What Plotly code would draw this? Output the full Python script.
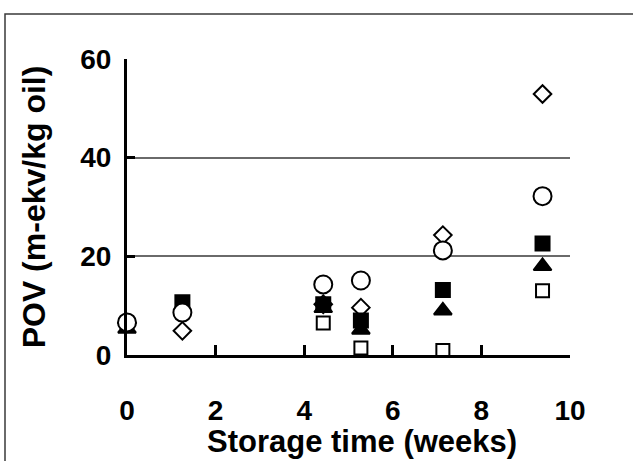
import plotly.graph_objects as go

weeks = [0, 1.25, 4.43, 5.28, 7.13, 9.38]
open_circle = [6.6, 8.6, 14.3, 15.1, 21.2, 32.2]
filled_square = [None, 10.7, 10.3, 7.0, 13.2, 22.6]
filled_triangle = [5.3, None, 9.5, 5.1, 9.0, 18.0]
open_diamond = [6.5, 4.9, 10.3, 9.6, 24.3, 52.9]
open_square = [None, None, 6.5, 1.4, 0.9, 13.0]

x_ticks = [0, 2, 4, 6, 8, 10]
y_ticks = [0, 20, 40, 60]
x_title = "Storage time (weeks)"
y_title = "POV (m-ekv/kg oil)"

FONT = "Arial, 'Liberation Sans', sans-serif"

fig = go.Figure()

def add(y, symbol, size, fill, name):
    fig.add_trace(go.Scatter(
        x=weeks, y=y, mode="markers", name=name,
        marker=dict(symbol=symbol, size=size, color=fill,
                    line=dict(color="black", width=2)),
        cliponaxis=False,
    ))

add(open_square, "square", 13, "white", "open square")
add(open_diamond, "diamond", 13.5, "white", "open diamond")
add(filled_triangle, "triangle-up", 15.5, "black", "filled triangle")
add(filled_square, "square", 14, "black", "filled square")
add(open_circle, "circle", 18, "white", "open circle")

fig.update_layout(
    width=633, height=461,
    margin=dict(l=127, r=63, t=59, b=106),
    paper_bgcolor="white", plot_bgcolor="white",
    showlegend=False,
    font=dict(family=FONT, color="black"),
    xaxis=dict(
        range=[0, 10], tickvals=x_ticks, ticktext=[str(v) for v in x_ticks],
        showgrid=False, zeroline=False, automargin=False,
        showline=True, linecolor="black", linewidth=3,
        ticks="inside", ticklen=10, tickwidth=3, tickcolor="black",
        tickfont=dict(size=28, family=FONT, weight="bold"),
        ticklabelstandoff=28,
    ),
    yaxis=dict(
        range=[0, 60], tickvals=y_ticks, ticktext=[str(v) for v in y_ticks],
        showgrid=True, gridcolor="#6a6a6a", gridwidth=1.5,
        zeroline=False, automargin=False,
        showline=True, linecolor="black", linewidth=3,
        ticks="inside", ticklen=8, tickwidth=3, tickcolor="black",
        tickfont=dict(size=28, family=FONT, weight="bold"),
        ticklabelstandoff=7,
        title=dict(text="<b>" + y_title + "</b>", font=dict(size=32, family=FONT), standoff=26),
    ),
    annotations=[dict(
        text="<b>" + x_title + "</b>", xref="paper", yref="paper",
        x=(361.5 - 127) / 443, y=-(441 - 355) / 296,
        xanchor="center", yanchor="middle", showarrow=False,
        font=dict(size=31, family=FONT, color="black"),
    )],
    shapes=[dict(
        type="rect", xref="paper", yref="paper",
        x0=(5 - 127) / 443, x1=1.3, y0=-0.5, y1=(355 - 14) / 296,
        line=dict(color="#3a3a3a", width=1.5), fillcolor="rgba(0,0,0,0)", layer="below",
    )],
)

fig.write_html(
    "out.html",
    config={"displayModeBar": False},
    post_script="document.body.style.margin='0';document.body.style.overflow='hidden';",
)
